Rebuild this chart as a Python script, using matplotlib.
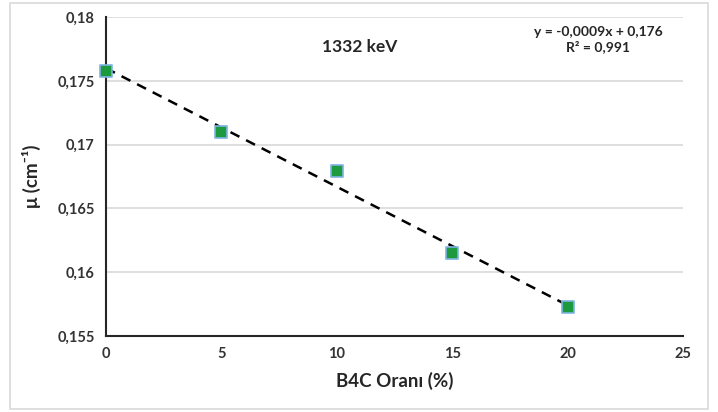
import matplotlib
matplotlib.use("Agg")
import matplotlib.pyplot as plt
import numpy as np
from matplotlib.patches import Rectangle

x_vals = [0, 5, 10, 15, 20]
mu_vals = [0.17578, 0.1710, 0.1679, 0.1615, 0.1573]
x_ticks = [0, 5, 10, 15, 20, 25]
y_ticks = [0.155, 0.16, 0.165, 0.17, 0.175, 0.18]
y_tick_labels = ["0,155", "0,16", "0,165", "0,17", "0,175", "0,18"]

plt.rcParams['font.family'] = ['Lato', 'DejaVu Sans']

fig = plt.figure(figsize=(7.18, 4.12), dpi=100)
fig.patches.append(Rectangle((0.014, 0.008), 0.972, 0.985, transform=fig.transFigure,
                             fill=False, edgecolor='#d9d9d9', linewidth=1.2))
ax = fig.add_axes([0.1476, 0.1845, 0.8037, 0.7742])

slope, intercept = np.polyfit(x_vals, mu_vals, 1)
xt = np.array([0, 20])
ax.plot(xt, slope * xt + intercept, linestyle=(0, (4, 3)), color='black', linewidth=1.8, zorder=3,
        clip_on=False)
ax.scatter(x_vals, mu_vals, marker='s', s=85, color='#1e9a3e', edgecolor='#7fb3e3',
           linewidth=1.2, zorder=4, clip_on=False)

ax.set_xlim(0, 25)
ax.set_ylim(0.155, 0.18)
ax.set_xticks(x_ticks)
ax.set_xticklabels([str(t) for t in x_ticks], fontsize=10.5, fontweight='bold', color='#333333')
ax.set_yticks(y_ticks)
ax.set_yticklabels(y_tick_labels, fontsize=10.5, fontweight='bold', color='#333333')
ax.tick_params(length=0, pad=8)
ax.grid(axis='y', color='#d9d9d9', linewidth=1.2)
ax.set_axisbelow(True)
for s in ['top', 'right']:
    ax.spines[s].set_visible(False)
for s in ['left', 'bottom']:
    ax.spines[s].set_linewidth(1.5)
    ax.spines[s].set_color('#262626')

ax.set_xlabel("B4C Oranı (%)", fontsize=13.5, fontweight='bold', color='#262626', labelpad=8)
ax.set_ylabel("μ (cm⁻¹)", fontsize=13.5, fontweight='bold', color='#262626', labelpad=12)

fig.text(360/718, 1 - 47/412, "1332 keV", fontsize=12.5, fontweight='bold', ha='center', va='center', color='#262626')
fig.text(598/718, 1 - 32/412, "y = -0,0009x + 0,176", fontsize=10, fontweight='bold', ha='center', va='center', color='#262626')
fig.text(598/718, 1 - 47/412, "R² = 0,991", fontsize=10, fontweight='bold', ha='center', va='center', color='#262626')

fig.savefig("out.png", dpi=100)
